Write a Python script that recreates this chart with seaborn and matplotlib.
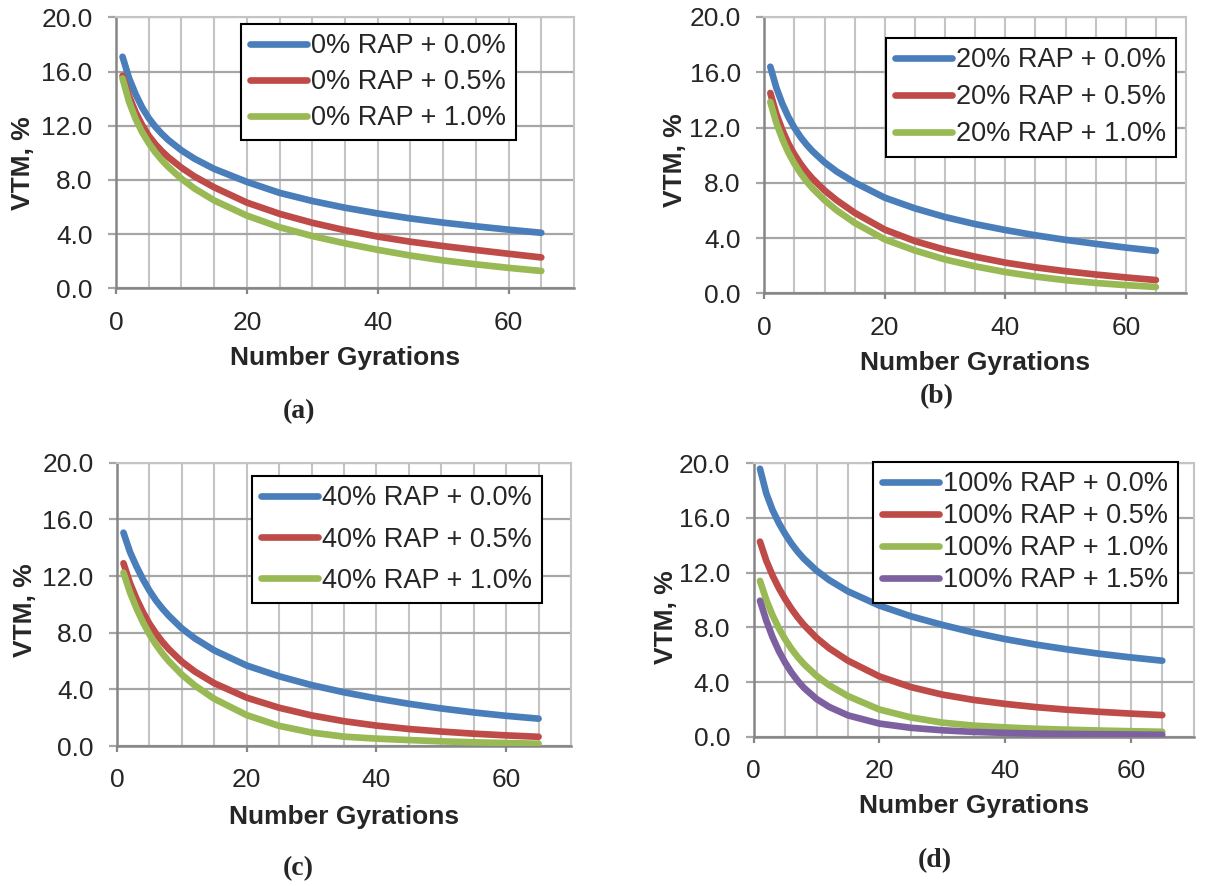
import numpy as np
import pandas as pd
import matplotlib
matplotlib.use("Agg")
import matplotlib.pyplot as plt
from matplotlib.lines import Line2D
import seaborn as sns

# ---------------- data ----------------
gyr = [1, 2, 3, 4, 5, 6, 7, 8, 10, 12, 15, 20, 25, 30, 35, 40, 45, 50, 55, 60, 65]

a_00 = [17.1, 15.51, 14.33, 13.35, 12.57, 11.94, 11.41, 10.95, 10.19, 9.57, 8.82, 7.86, 7.05, 6.45, 5.95, 5.53, 5.16, 4.85, 4.58, 4.33, 4.1]
a_05 = [15.7, 14.18, 13.0, 12.05, 11.27, 10.65, 10.13, 9.68, 8.91, 8.26, 7.46, 6.33, 5.5, 4.84, 4.29, 3.82, 3.44, 3.12, 2.83, 2.55, 2.28]
a_10 = [15.5, 13.77, 12.51, 11.53, 10.73, 10.05, 9.47, 8.96, 8.09, 7.37, 6.49, 5.37, 4.51, 3.86, 3.32, 2.84, 2.42, 2.06, 1.77, 1.51, 1.28]

b_00 = [16.4, 14.88, 13.71, 12.76, 11.98, 11.32, 10.77, 10.29, 9.48, 8.82, 8.02, 6.92, 6.15, 5.52, 5.01, 4.58, 4.2, 3.87, 3.58, 3.31, 3.07]
b_05 = [14.5, 12.98, 11.81, 10.83, 10.05, 9.38, 8.8, 8.3, 7.45, 6.74, 5.83, 4.61, 3.78, 3.15, 2.65, 2.22, 1.88, 1.6, 1.36, 1.15, 0.96]
b_10 = [13.85, 12.33, 11.16, 10.18, 9.38, 8.7, 8.11, 7.6, 6.74, 6.01, 5.1, 3.9, 3.1, 2.45, 1.95, 1.54, 1.21, 0.95, 0.75, 0.59, 0.46]

c_00 = [15.06, 13.7, 12.68, 11.77, 10.97, 10.28, 9.7, 9.19, 8.3, 7.6, 6.75, 5.68, 4.92, 4.3, 3.79, 3.36, 2.98, 2.65, 2.37, 2.13, 1.93]
c_05 = [12.9, 11.5, 10.4, 9.45, 8.63, 7.95, 7.35, 6.83, 5.95, 5.26, 4.43, 3.41, 2.7, 2.16, 1.75, 1.44, 1.2, 1.02, 0.87, 0.75, 0.65]
c_10 = [12.24, 10.85, 9.72, 8.74, 7.89, 7.16, 6.53, 5.98, 5.04, 4.27, 3.33, 2.18, 1.42, 0.95, 0.66, 0.52, 0.42, 0.33, 0.26, 0.21, 0.16]

d_00 = [19.6, 17.8, 16.58, 15.63, 14.83, 14.13, 13.53, 13.01, 12.15, 11.46, 10.63, 9.59, 8.81, 8.18, 7.62, 7.14, 6.73, 6.38, 6.07, 5.8, 5.56]
d_05 = [14.27, 12.88, 11.79, 10.87, 10.07, 9.36, 8.73, 8.17, 7.23, 6.47, 5.56, 4.41, 3.63, 3.08, 2.69, 2.4, 2.16, 1.97, 1.82, 1.69, 1.58]
d_10 = [11.4, 10.01, 8.88, 7.93, 7.13, 6.43, 5.83, 5.31, 4.45, 3.77, 2.97, 1.99, 1.41, 1.03, 0.81, 0.68, 0.58, 0.51, 0.45, 0.4, 0.36]
d_15 = [9.95, 8.5, 7.28, 6.27, 5.42, 4.7, 4.09, 3.57, 2.76, 2.18, 1.56, 0.96, 0.65, 0.47, 0.35, 0.28, 0.23, 0.2, 0.18, 0.16, 0.14]

labels_a = ["0% RAP + 0.0%", "0% RAP + 0.5%", "0% RAP + 1.0%"]
labels_b = ["20% RAP + 0.0%", "20% RAP + 0.5%", "20% RAP + 1.0%"]
labels_c = ["40% RAP + 0.0%", "40% RAP + 0.5%", "40% RAP + 1.0%"]
labels_d = ["100% RAP + 0.0%", "100% RAP + 0.5%", "100% RAP + 1.0%", "100% RAP + 1.5%"]

captions = ["(a)", "(b)", "(c)", "(d)"]
y_ticks = [0, 4, 8, 12, 16, 20]
x_ticks = [0, 20, 40, 60]
x_label = "Number Gyrations"
y_label = "VTM, %"

colors = ["#4A7EBB", "#BE4B48", "#98B954", "#7D60A0"]

# ---------------- styling ----------------
sns.set_style("white")
plt.rcParams["font.family"] = ["Liberation Sans", "DejaVu Sans"]

W, H = 1210, 886
fig = plt.figure(figsize=(W / 100, H / 100), dpi=100)

FS = 19
LFS = 19.5
LW = 4.8
GRID_H = "#A6A6A6"
GRID_V = "#C4C4C4"
SPINE = "#868686"


def rect(l, r, t, b):
    return [l / W, 1 - b / H, (r - l) / W, (b - t) / H]


panels = [
    dict(r=rect(116, 574, 17.5, 288.3), series=[a_00, a_05, a_10], labels=labels_a,
         leg=(241, 24), lspace=0.36, xl=(0.5, -0.257), yl=(-0.202, 0.461), cap=(299, 412)),
    dict(r=rect(764.3, 1186, 17, 293.3), series=[b_00, b_05, b_10], labels=labels_b,
         leg=(886, 38), lspace=0.40, xl=(0.5, -0.252), yl=(-0.211, 0.482), cap=(937, 397)),
    dict(r=rect(117, 571, 462.7, 746), series=[c_00, c_05, c_10], labels=labels_c,
         leg=(252, 476), lspace=0.56, xl=(0.5, -0.249), yl=(-0.202, 0.479), cap=(298, 869)),
    dict(r=rect(753.7, 1193.7, 463.3, 736.7), series=[d_00, d_05, d_10, d_15], labels=labels_d,
         leg=(873, 462), lspace=0.22, xl=(0.5, -0.255), yl=(-0.2, 0.438), cap=(935, 861)),
]

for p, cap in zip(panels, captions):
    ax = fig.add_axes(p["r"])
    frames = []
    for lab, vals in zip(p["labels"], p["series"]):
        frames.append(pd.DataFrame({"Gyrations": gyr, "VTM": vals, "Mix": lab}))
    df = pd.concat(frames, ignore_index=True)
    pal = colors[:len(p["labels"])]
    sns.lineplot(data=df, x="Gyrations", y="VTM", hue="Mix", palette=pal, ax=ax,
                 linewidth=LW, sort=False, legend=False, zorder=3)
    for ln in ax.get_lines():
        ln.set_solid_capstyle("round")
        ln.set_solid_joinstyle("round")

    ax.set_xlim(0, 70)
    ax.set_ylim(0, 20)
    ax.set_xticks(x_ticks)
    ax.set_xticks(np.arange(5, 70, 5), minor=True)
    ax.set_yticks(y_ticks)
    ax.set_yticklabels([f"{v:.1f}" for v in y_ticks])
    ax.xaxis.grid(True, which="both", color=GRID_V, linewidth=1.5, zorder=0)
    ax.yaxis.grid(True, which="major", color=GRID_H, linewidth=1.6, zorder=0)
    ax.set_axisbelow(True)
    ax.tick_params(axis="y", which="major", length=6, width=1.6, color=GRID_H,
                   direction="out", pad=11, labelsize=FS, left=True)
    ax.tick_params(axis="x", which="major", length=4, width=1.6, color=SPINE,
                   direction="out", pad=12, labelsize=FS, bottom=True)
    ax.tick_params(axis="x", which="minor", length=0)
    for side in ["left", "bottom"]:
        ax.spines[side].set_color(SPINE)
        ax.spines[side].set_linewidth(1.8)
    for side in ["top", "right"]:
        ax.spines[side].set_color(GRID_V)
        ax.spines[side].set_linewidth(1.5)

    ax.set_xlabel(x_label, fontsize=FS, fontweight="bold")
    ax.set_ylabel(y_label, fontsize=FS, fontweight="bold")
    ax.xaxis.set_label_coords(*p["xl"])
    ax.yaxis.set_label_coords(*p["yl"])
    ax.xaxis.label.set_va("center")
    ax.yaxis.label.set_va("center")

    handles = [Line2D([0], [0], color=c, lw=LW, solid_capstyle="round") for c in pal]
    lx, ly = p["leg"]
    leg = ax.legend(handles, p["labels"], loc="upper left",
                    bbox_to_anchor=(lx / W, 1 - ly / H), bbox_transform=fig.transFigure,
                    borderaxespad=0, fontsize=LFS, frameon=True, fancybox=False,
                    framealpha=1, edgecolor="black", handlelength=2.1,
                    handletextpad=0.15, borderpad=0.35, labelspacing=p["lspace"])
    leg.get_frame().set_linewidth(1.5)
    leg.set_zorder(5)

    fig.text(p["cap"][0] / W, 1 - p["cap"][1] / H, cap, ha="center", va="center",
             fontsize=20, fontweight="bold", family=["Liberation Serif", "DejaVu Serif"])

fig.savefig("out.png", dpi=100)
